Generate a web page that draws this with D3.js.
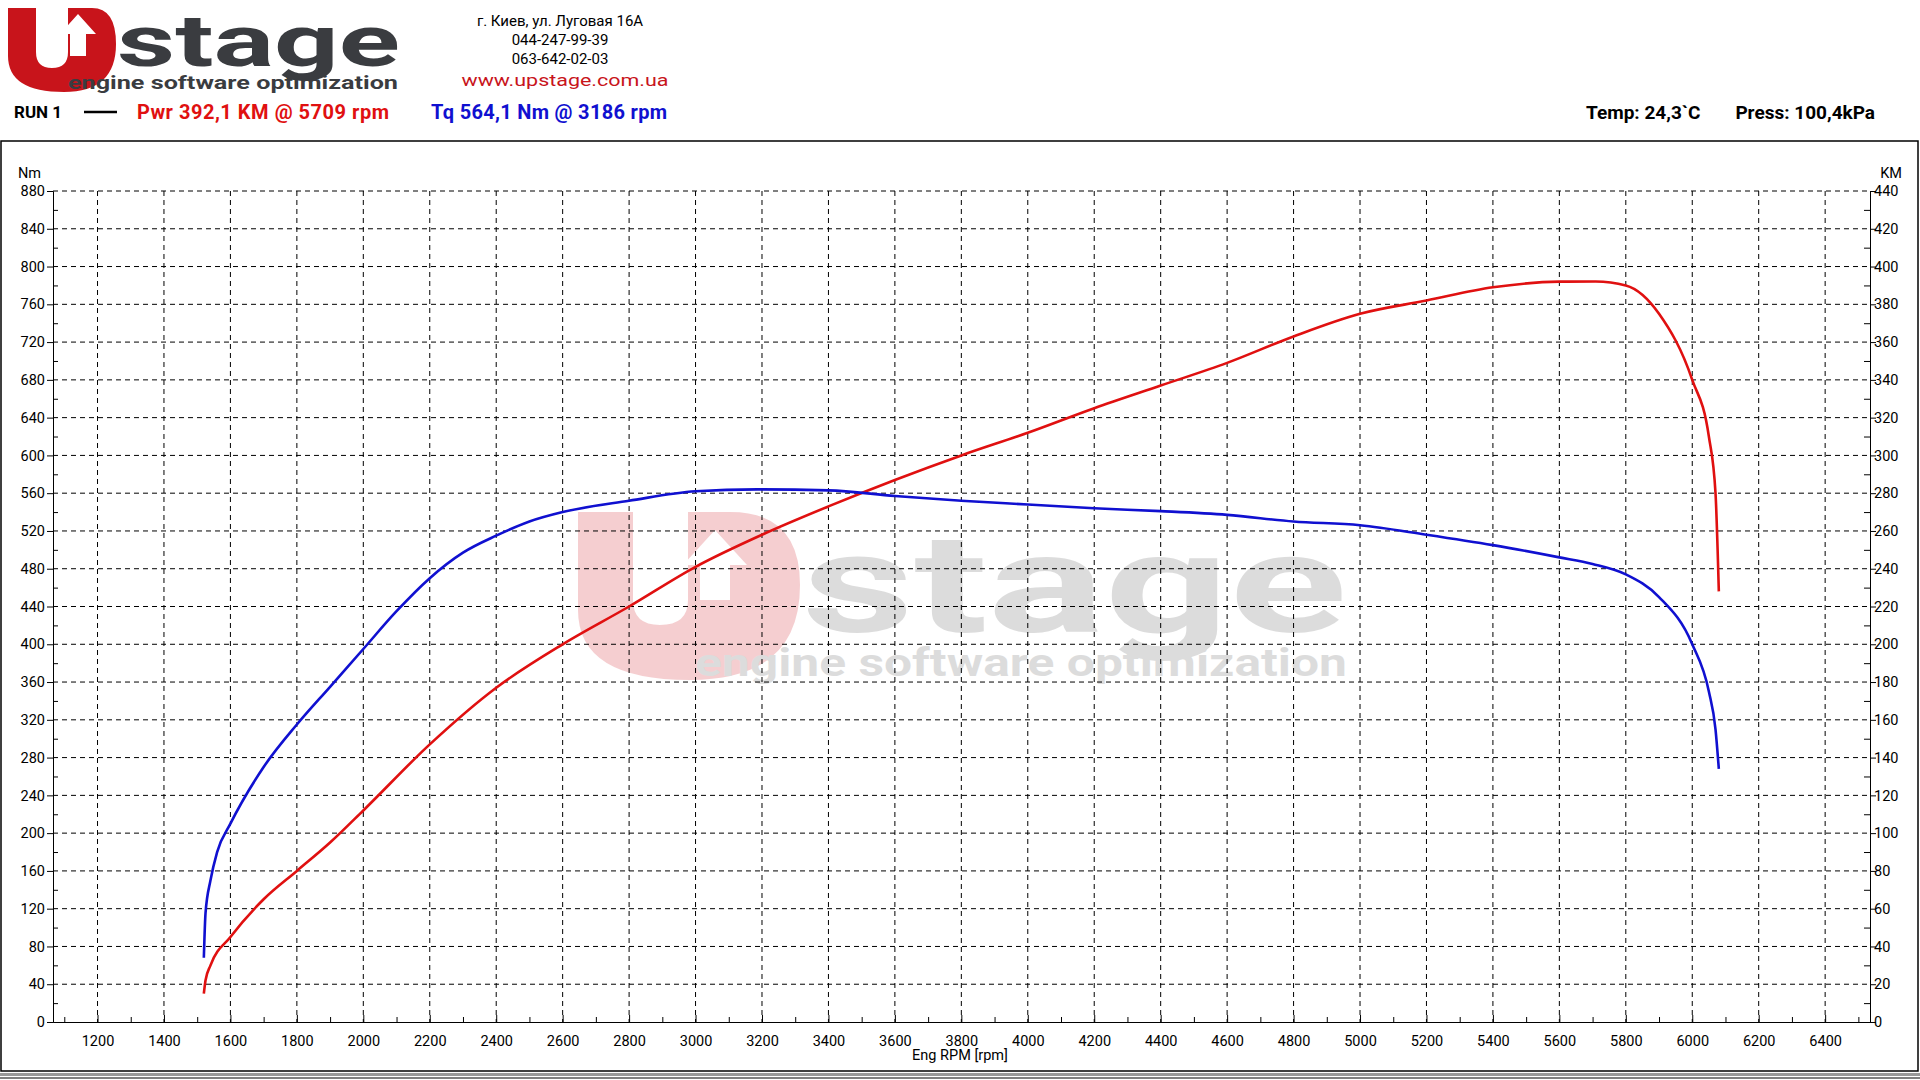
<!DOCTYPE html>
<html><head><meta charset="utf-8">
<script src="https://cdn.jsdelivr.net/npm/d3@7"></script>
<style>
body{margin:0;background:#fff;}
text{font-family:Roboto,"Liberation Sans",Arial,sans-serif;}
</style></head>
<body><svg id="chart" width="1920" height="1080"></svg>
<script>
// torque, Nm
const tqRpm = [1520,1522,1525,1540,1560,1600,1700,1800,1900,2000,2100,2200,2300,2400,2500,2600,2800,3000,3186,3400,3600,3800,4000,4200,4400,4600,4800,5000,5200,5400,5600,5700,5800,5900,6000,6050,6070,6080];
const tqVal = [68,90,115,150,180,210,270,315,355,395,435,470,497,515,530,540,552,562,564,563,557,552,548,544,541,537,530,526,516,505,492,485,474,450,400,350,310,268];
// power, KM
const pwRpm = [1520,1525,1540,1600,1700,1800,1900,2000,2200,2400,2600,2800,3000,3200,3400,3600,3800,4000,4200,4400,4600,4800,5000,5200,5400,5600,5709,5800,5900,6000,6050,6070,6080];
const pwVal = [15,22,30,45,65,80,95,112,147,177,200,220,241,258,273,287,300,312,325,337,349,363,375,382,389,392,392.1,390,375,340,310,280,228];
const leftTicks = d3.range(0, 881, 40);
const rightTicks = d3.range(0, 441, 20);
const rpmTicks = d3.range(1200, 6401, 200);
const address = ["г. Киев, ул. Луговая 16А","044-247-99-39","063-642-02-03"];

const svg = d3.select('#chart');
const L = 53, R = 1870, T = 191, B = 1022;
const x = d3.scaleLinear().domain([1066, 6535]).range([L, R]);
const yNm = d3.scaleLinear().domain([0, 880]).range([B, T]);
const yKm = d3.scaleLinear().domain([0, 440]).range([B, T]);

// frame
svg.append('rect').attr('x',1).attr('y',141).attr('width',1917).attr('height',930)
    .attr('fill','none').attr('stroke','#000').attr('stroke-width',1.5);
svg.append('rect').attr('x',0).attr('y',1073).attr('width',1920).attr('height',3).attr('fill','#999');
svg.append('line').attr('x1',0).attr('x2',1920).attr('y1',1078).attr('y2',1078).attr('stroke','#000');

// logo
const logo = svg.append('g');
logo.append('path').attr('d','M8,8 H36 V52 Q36,68 52,68 Q68,68 68,52 V8 H92 Q116,8 116,44 Q116,92 64,92 Q8,92 8,56 Z')
    .attr('fill','#c8141b');
logo.append('path').attr('d','M70,56 V34 H60 L78,14 L96,34 H86 V56 Z').attr('fill','#fff');
logo.append('text').attr('x',117).attr('y',66).attr('font-size',72).attr('font-weight',700)
    .attr('fill','#3a3c40').attr('font-family','"DejaVu Sans",sans-serif')
    .attr('textLength',283).attr('lengthAdjust','spacingAndGlyphs').text('stage');
logo.append('text').attr('x',68).attr('y',89).attr('font-size',19).attr('font-weight',700)
    .attr('fill','#3a3c40').attr('font-family','"DejaVu Sans",sans-serif')
    .attr('textLength',330).attr('lengthAdjust','spacingAndGlyphs').text('engine software optimization');

// address
svg.selectAll('.addr').data(address).enter().append('text')
    .attr('x',560).attr('y',(d,i)=>26+i*19).attr('text-anchor','middle').attr('font-size',15).text(d=>d);
svg.append('text').attr('x',565).attr('y',86).attr('text-anchor','middle').attr('font-size',16)
    .attr('fill','#c8141b').attr('font-family','"DejaVu Sans",sans-serif')
    .attr('textLength',207).attr('lengthAdjust','spacingAndGlyphs').text('www.upstage.com.ua');

// header line
svg.append('text').attr('x',14).attr('y',118).attr('font-size',17).attr('font-weight',700).text('RUN 1');
svg.append('line').attr('x1',84).attr('x2',117).attr('y1',112).attr('y2',112).attr('stroke','#000').attr('stroke-width',2.5);
svg.append('text').attr('x',137).attr('y',119).attr('font-size',20).attr('font-weight',700).attr('fill','#e01010')
    .attr('textLength',252).text('Pwr  392,1 KM @ 5709 rpm');
svg.append('text').attr('x',431).attr('y',119).attr('font-size',20).attr('font-weight',700).attr('fill','#1010d0')
    .attr('textLength',236).text('Tq 564,1 Nm @ 3186 rpm');
svg.append('text').attr('x',1586).attr('y',119).attr('font-size',19).attr('font-weight',700).text('Temp: 24,3`C');
svg.append('text').attr('x',1875).attr('y',119).attr('text-anchor','end').attr('font-size',19).attr('font-weight',700).text('Press: 100,4kPa');

// watermark
const wm = svg.append('g').attr('opacity',0.2);
wm.append('path').attr('d','M578,512 H633 V600 Q633,625 660,625 Q688,625 688,600 V512 H730 Q800,512 800,585 Q800,680 690,680 Q578,680 578,610 Z').attr('fill','#d0101a');
wm.append('path').attr('d','M700,600 V565 H683 L715,530 L747,565 H730 V600 Z').attr('fill','#fff');
wm.append('text').attr('x',802).attr('y',632).attr('font-size',140).attr('font-weight',700)
    .attr('fill','#555').attr('font-family','"DejaVu Sans",sans-serif')
    .attr('textLength',545).attr('lengthAdjust','spacingAndGlyphs').text('stage');
wm.append('text').attr('x',695).attr('y',676).attr('font-size',38).attr('font-weight',700)
    .attr('fill','#555').attr('font-family','"DejaVu Sans",sans-serif')
    .attr('textLength',652).attr('lengthAdjust','spacingAndGlyphs').text('engine software optimization');

// grid
const grid = svg.append('g').attr('stroke','#000').attr('stroke-dasharray','5,4').attr('stroke-width',1);
grid.selectAll('.gx').data(rpmTicks).enter().append('line')
    .attr('x1',d=>x(d)).attr('x2',d=>x(d)).attr('y1',T).attr('y2',B);
grid.selectAll('.gy').data(leftTicks.filter(d=>d>0)).enter().append('line')
    .attr('x1',L).attr('x2',R).attr('y1',d=>yNm(d)).attr('y2',d=>yNm(d));

// axes
const axL = svg.append('g').attr('transform',`translate(${L},0)`)
    .call(d3.axisLeft(yNm).tickValues(leftTicks).tickSize(6).tickSizeOuter(0).tickFormat(d3.format('d')));
svg.append('g').attr('transform',`translate(${L},0)`)
    .call(d3.axisRight(yNm).tickValues(d3.range(20, 880, 40)).tickSize(5).tickSizeOuter(0).tickFormat(''));
const axR = svg.append('g').attr('transform',`translate(${R},0)`)
    .call(d3.axisRight(yKm).tickValues(rightTicks).tickSize(6).tickSizeOuter(0).tickFormat(d3.format('d')));
svg.append('g').attr('transform',`translate(${R},0)`)
    .call(d3.axisLeft(yKm).tickValues(d3.range(10, 440, 20)).tickSize(6).tickSizeOuter(0).tickFormat(''));
const axB = svg.append('g').attr('transform',`translate(0,${B})`)
    .call(d3.axisBottom(x).tickValues(rpmTicks).tickSize(-7).tickSizeOuter(0).tickFormat(d3.format('d')));
svg.append('g').attr('transform',`translate(0,${B})`)
    .call(d3.axisBottom(x).tickValues(d3.range(1100, 6501, 200)).tickSize(-5).tickSizeOuter(0).tickFormat(''));
svg.selectAll('.domain').attr('stroke','#000');
[axL, axR].forEach(a=>a.selectAll('text').attr('font-size',14.5).attr('fill','#000'));
axL.selectAll('text').attr('x',-8); axR.selectAll('text').attr('x',4);
axB.selectAll('text').attr('font-size',14.5).attr('fill','#000').attr('y',14);
svg.selectAll('.tick line').attr('stroke','#000');

svg.append('text').attr('x',18).attr('y',178).attr('font-size',14.5).text('Nm');
svg.append('text').attr('x',1902).attr('y',178).attr('text-anchor','end').attr('font-size',14.5).text('KM');
svg.append('text').attr('x',960).attr('y',1060).attr('text-anchor','middle').attr('font-size',14.5).text('Eng RPM [rpm]');

// curves
const lineTq = d3.line().x(d=>x(d[0])).y(d=>yNm(d[1])).curve(d3.curveMonotoneX);
const lineKm = d3.line().x(d=>x(d[0])).y(d=>yKm(d[1])).curve(d3.curveMonotoneX);
svg.append('path').datum(d3.zip(pwRpm, pwVal)).attr('d',lineKm)
    .attr('fill','none').attr('stroke','#e01010').attr('stroke-width',2.6);
svg.append('path').datum(d3.zip(tqRpm, tqVal)).attr('d',lineTq)
    .attr('fill','none').attr('stroke','#1010d0').attr('stroke-width',2.6);
</script></body></html>
